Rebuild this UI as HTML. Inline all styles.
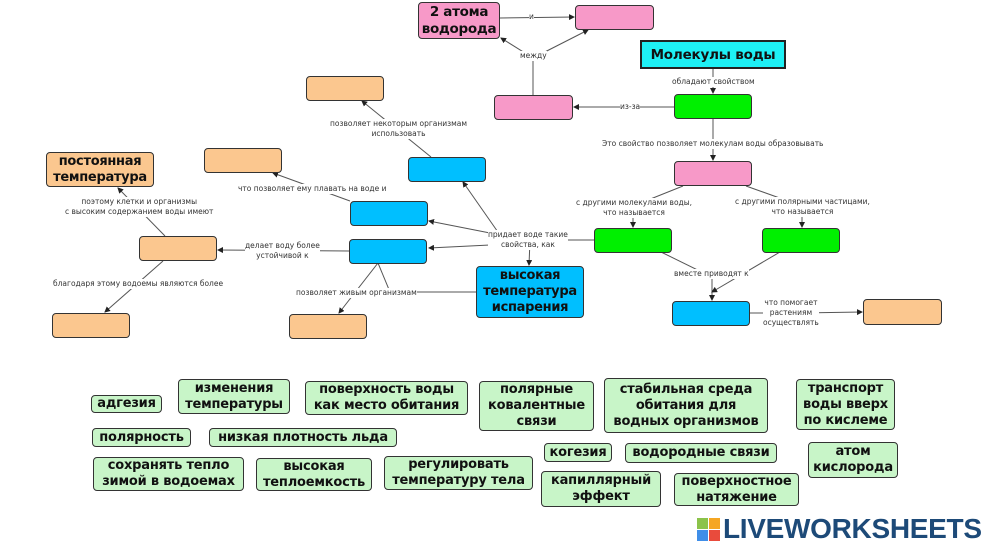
<!DOCTYPE html>
<html><head><meta charset="utf-8"><style>
body{margin:0;width:1000px;height:551px;background:#fff;position:relative;overflow:hidden;font-family:"DejaVu Sans","Liberation Sans",sans-serif}
.n{position:absolute;box-sizing:border-box;border:1.5px solid #333;border-radius:4px}
.or{background:#fbc78f}.bl{background:#00bfff}.gr{background:#00f000}.pk{background:#f799c8}
.t{position:absolute;font-size:7.5px;color:#333;text-align:center;white-space:nowrap;line-height:10px;background:#fff}
.c{position:absolute;box-sizing:border-box;background:#c8f5c8;border:1.5px solid #333;border-radius:4px;font-weight:bold;font-size:13px;line-height:16px;text-align:center;color:#111;display:flex;align-items:center;justify-content:center;white-space:nowrap;letter-spacing:-0.2px}
.big{display:flex;align-items:center;justify-content:center;text-align:center;font-weight:bold;color:#111;white-space:nowrap}
svg{position:absolute;left:0;top:0}
</style></head><body>
<svg width="1000" height="551">
<defs><marker id="a" markerWidth="6" markerHeight="6" refX="5" refY="3" orient="auto"><path d="M0,0L6,3L0,6z" fill="#222"/></marker></defs>
<g stroke="#555" stroke-width="1" fill="none" marker-end="url(#a)">
<path d="M500,18L574,17"/>
<path d="M533,58L588,30"/>
<path d="M533,95L533,58L501,38"/>
<path d="M713,68L713,93"/>
<path d="M674,107L574,107"/>
<path d="M713,118L713,160"/>
<path d="M683,186L633,206L633,227"/>
<path d="M746,186L802,206L802,227"/>
<path d="M661,252L712,277L712,300"/>
<path d="M780,252L712,292"/>
<path d="M750,313L800,313L862,312"/>
<path d="M594,240L530,240L529,265"/>
<path d="M500,235L463,182"/>
<path d="M490,233L429,221"/>
<path d="M490,245L429,248"/>
<path d="M476,292L390,292L378,263L339,313"/>
<path d="M349,251L218,250"/>
<path d="M431,157L362,101"/>
<path d="M350,201L273,173"/>
<path d="M165,236L118,188"/>
<path d="M163,261L105,312"/>
</g>
</svg>
<div class="n pk big" style="left:418px;top:2px;width:82px;height:37px;font-size:13.5px;line-height:17px;letter-spacing:-0.3px">2 атома<br>водорода</div>
<div class="n pk" style="left:575px;top:5px;width:79px;height:25px"></div>
<div class="n big" style="left:640px;top:40px;width:146px;height:29px;background:#1ef0f5;border-radius:0;border:2px solid #222;font-size:13.5px;letter-spacing:-0.2px">Молекулы воды</div>
<div class="n pk" style="left:494px;top:95px;width:79px;height:25px"></div>
<div class="n gr" style="left:674px;top:94px;width:78px;height:25px"></div>
<div class="n pk" style="left:674px;top:161px;width:78px;height:25px"></div>
<div class="n gr" style="left:594px;top:228px;width:78px;height:25px"></div>
<div class="n gr" style="left:762px;top:228px;width:78px;height:25px"></div>
<div class="n bl" style="left:672px;top:301px;width:78px;height:25px"></div>
<div class="n or" style="left:863px;top:299px;width:79px;height:26px"></div>
<div class="n bl big" style="left:476px;top:266px;width:108px;height:52px;font-size:13px;line-height:16px;letter-spacing:-0.3px">высокая<br>температура<br>испарения</div>
<div class="n bl" style="left:408px;top:157px;width:78px;height:25px"></div>
<div class="n bl" style="left:350px;top:201px;width:78px;height:25px"></div>
<div class="n bl" style="left:349px;top:239px;width:78px;height:25px"></div>
<div class="n or" style="left:306px;top:76px;width:78px;height:25px"></div>
<div class="n or" style="left:204px;top:148px;width:78px;height:25px"></div>
<div class="n or" style="left:139px;top:236px;width:78px;height:25px"></div>
<div class="n or" style="left:52px;top:313px;width:78px;height:25px"></div>
<div class="n or" style="left:289px;top:314px;width:78px;height:25px"></div>
<div class="n or big" style="left:46px;top:152px;width:108px;height:35px;font-size:13px;line-height:16px;letter-spacing:-0.3px">постоянная<br>температура</div>

<div class="t" style="left:529px;top:12px">и</div>
<div class="t" style="left:520px;top:51px">между</div>
<div class="t" style="left:672px;top:77px">обладают свойством</div>
<div class="t" style="left:620px;top:102px">из-за</div>
<div class="t" style="left:602px;top:139px">Это свойство позволяет молекулам воды образовывать</div>
<div class="t" style="left:576px;top:198px">с другими молекулами воды,<br>что называется</div>
<div class="t" style="left:735px;top:197px">с другими полярными частицами,<br>что называется</div>
<div class="t" style="left:674px;top:269px">вместе приводят к</div>
<div class="t" style="left:763px;top:298px">что помогает<br>растениям<br>осуществлять</div>
<div class="t" style="left:488px;top:230px">придает воде такие<br>свойства, как</div>
<div class="t" style="left:330px;top:119px">позволяет некоторым организмам<br>использовать</div>
<div class="t" style="left:238px;top:184px">что позволяет ему плавать на воде и</div>
<div class="t" style="left:245px;top:241px">делает воду более<br>устойчивой к</div>
<div class="t" style="left:296px;top:288px">позволяет живым организмам</div>
<div class="t" style="left:65px;top:197px">поэтому клетки и организмы<br>с высоким содержанием воды имеют</div>
<div class="t" style="left:53px;top:279px">благодаря этому водоемы являются более</div>

<div class="c" style="left:91px;top:395px;width:71px;height:18px">адгезия</div>
<div class="c" style="left:178px;top:379px;width:112px;height:35px">изменения<br>температуры</div>
<div class="c" style="left:305px;top:381px;width:163px;height:34px">поверхность воды<br>как место обитания</div>
<div class="c" style="left:479px;top:381px;width:115px;height:50px">полярные<br>ковалентные<br>связи</div>
<div class="c" style="left:604px;top:378px;width:164px;height:55px">стабильная среда<br>обитания для<br>водных организмов</div>
<div class="c" style="left:796px;top:379px;width:99px;height:51px">транспорт<br>воды вверх<br>по кислеме</div>
<div class="c" style="left:92px;top:428px;width:99px;height:19px">полярность</div>
<div class="c" style="left:209px;top:428px;width:188px;height:19px">низкая плотность льда</div>
<div class="c" style="left:544px;top:443px;width:68px;height:19px">когезия</div>
<div class="c" style="left:625px;top:443px;width:152px;height:20px">водородные связи</div>
<div class="c" style="left:808px;top:442px;width:90px;height:36px">атом<br>кислорода</div>
<div class="c" style="left:93px;top:457px;width:151px;height:34px">сохранять тепло<br>зимой в водоемах</div>
<div class="c" style="left:256px;top:458px;width:116px;height:33px">высокая<br>теплоемкость</div>
<div class="c" style="left:384px;top:456px;width:149px;height:34px">регулировать<br>температуру тела</div>
<div class="c" style="left:541px;top:471px;width:120px;height:36px">капиллярный<br>эффект</div>
<div class="c" style="left:674px;top:473px;width:125px;height:33px">поверхностное<br>натяжение</div>

<div style="position:absolute;left:697px;top:518px;width:11px;height:11px;background:#8bc34a"></div>
<div style="position:absolute;left:709px;top:518px;width:11px;height:11px;background:#f5a623"></div>
<div style="position:absolute;left:697px;top:530px;width:11px;height:11px;background:#3f8ee8"></div>
<div style="position:absolute;left:709px;top:530px;width:11px;height:11px;background:#e94b3c"></div>
<div style="position:absolute;left:723px;top:513px;font-family:'Liberation Sans',sans-serif;font-weight:bold;font-size:28px;color:#1d4a78;letter-spacing:-0.3px">LIVEWORKSHEETS</div>
</body></html>
